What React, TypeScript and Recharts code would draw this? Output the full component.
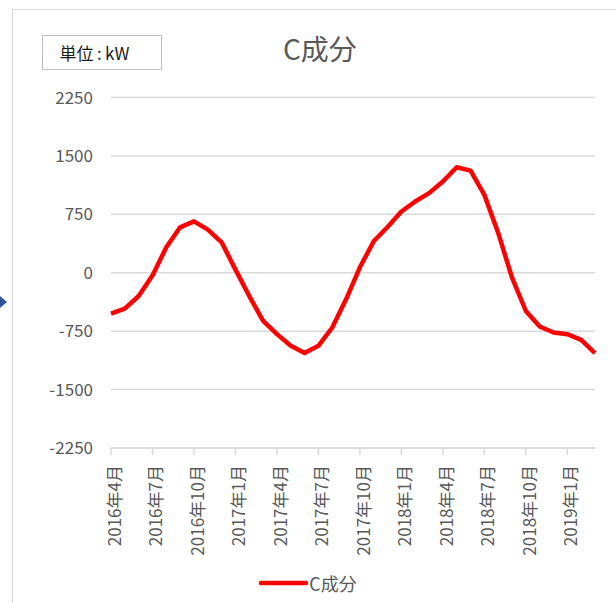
import { CartesianGrid, Line, LineChart, XAxis, YAxis } from "recharts";

const months = [
  "2016年4月", "2016年5月", "2016年6月", "2016年7月", "2016年8月", "2016年9月",
  "2016年10月", "2016年11月", "2016年12月", "2017年1月", "2017年2月", "2017年3月",
  "2017年4月", "2017年5月", "2017年6月", "2017年7月", "2017年8月", "2017年9月",
  "2017年10月", "2017年11月", "2017年12月", "2018年1月", "2018年2月", "2018年3月",
  "2018年4月", "2018年5月", "2018年6月", "2018年7月", "2018年8月", "2018年9月",
  "2018年10月", "2018年11月", "2018年12月", "2019年1月", "2019年2月", "2019年3月",
];

const cValues = [
  -524, -460, -299, -35, 327, 583,
  660, 553, 391, 40, -299, -618,
  -788, -938, -1031, -938, -703, -341,
  70, 404, 588, 787, 915, 1022,
  1171, 1355, 1311, 1000, 511, -64,
  -491, -690, -767, -789, -861, -1031,
];

const yTicks = [-2250, -1500, -750, 0, 750, 1500, 2250];

const seriesName = "C成分";
const unitLabel = "単位\u2009:\u2009kW";

const font = "'Noto Sans CJK JP', 'Noto Sans', sans-serif";
const grey = "#595959";
const gridColor = "#d9d9d9";

const rows = months.map((m, i) => ({ month: m, value: cValues[i] }));

function MonthTick({ x, y, payload }: any) {
  return (
    <g transform={`translate(${x + 2.5},${y + 8})`}>
      <text
        transform="rotate(-90)"
        textAnchor="end"
        dominantBaseline="central"
        fill={grey}
        fontSize={17}
        fontFamily={font}
      >
        {payload.value}
      </text>
    </g>
  );
}

export default function App() {
  return (
    <div style={{ position: "absolute", left: 0, top: 0, width: 616, height: 603, background: "#fff", overflow: "hidden", fontFamily: font }}>
      <div style={{ position: "absolute", left: 12, top: 9, right: -10, bottom: -10, borderLeft: `1.5px solid ${gridColor}`, borderTop: `1.5px solid ${gridColor}` }} />
      <svg style={{ position: "absolute", left: 0, top: 296 }} width={8} height={12}>
        <polygon points="0,0 7,6 0,12" fill="#2F5597" />
      </svg>

      <div style={{ position: "absolute", left: 0, top: 0 }}>
        <LineChart width={616} height={603} data={rows} margin={{ top: 97.5, right: 21, bottom: 0, left: 0 }}>
          <CartesianGrid vertical={false} stroke={gridColor} strokeWidth={1.5} />
          <XAxis
            dataKey="month"
            interval={2}
            height={155}
            stroke={gridColor}
            strokeWidth={1.5}
            tickSize={7}
            tick={<MonthTick />}
          />
          <YAxis
            width={111}
            domain={[-2250, 2250]}
            ticks={yTicks}
            interval={0}
            axisLine={false}
            tickLine={false}
            tickSize={0}
            tickMargin={18}
            tick={{ fill: grey, fontSize: 17, fontFamily: font }}
          />
          <Line
            dataKey="value"
            name={seriesName}
            stroke="#ff0000"
            strokeWidth={4.5}
            strokeLinejoin="round"
            dot={false}
            isAnimationActive={false}
          />
        </LineChart>
      </div>

      <div style={{ position: "absolute", left: 283, top: 30, fontSize: 28, color: grey, lineHeight: "36px" }}>{seriesName}</div>

      <div style={{ position: "absolute", left: 41.5, top: 35, width: 120, height: 35, border: "1.5px solid #bfbfbf", boxSizing: "border-box" }}>
        <span style={{ position: "absolute", left: 17, top: 5, fontSize: 17, color: "#1a1a1a", lineHeight: "24px", whiteSpace: "nowrap" }}>{unitLabel}</span>
      </div>

      <div style={{ position: "absolute", left: 0, top: 571, width: 616, display: "flex", justifyContent: "center", alignItems: "center" }}>
        <svg width={50} height={24}>
          <line x1={2} y1={12} x2={47} y2={12} stroke="#ff0000" strokeWidth={4.5} strokeLinecap="round" />
        </svg>
        <span style={{ fontSize: 18, color: grey, lineHeight: "24px" }}>{seriesName}</span>
      </div>
    </div>
  );
}
